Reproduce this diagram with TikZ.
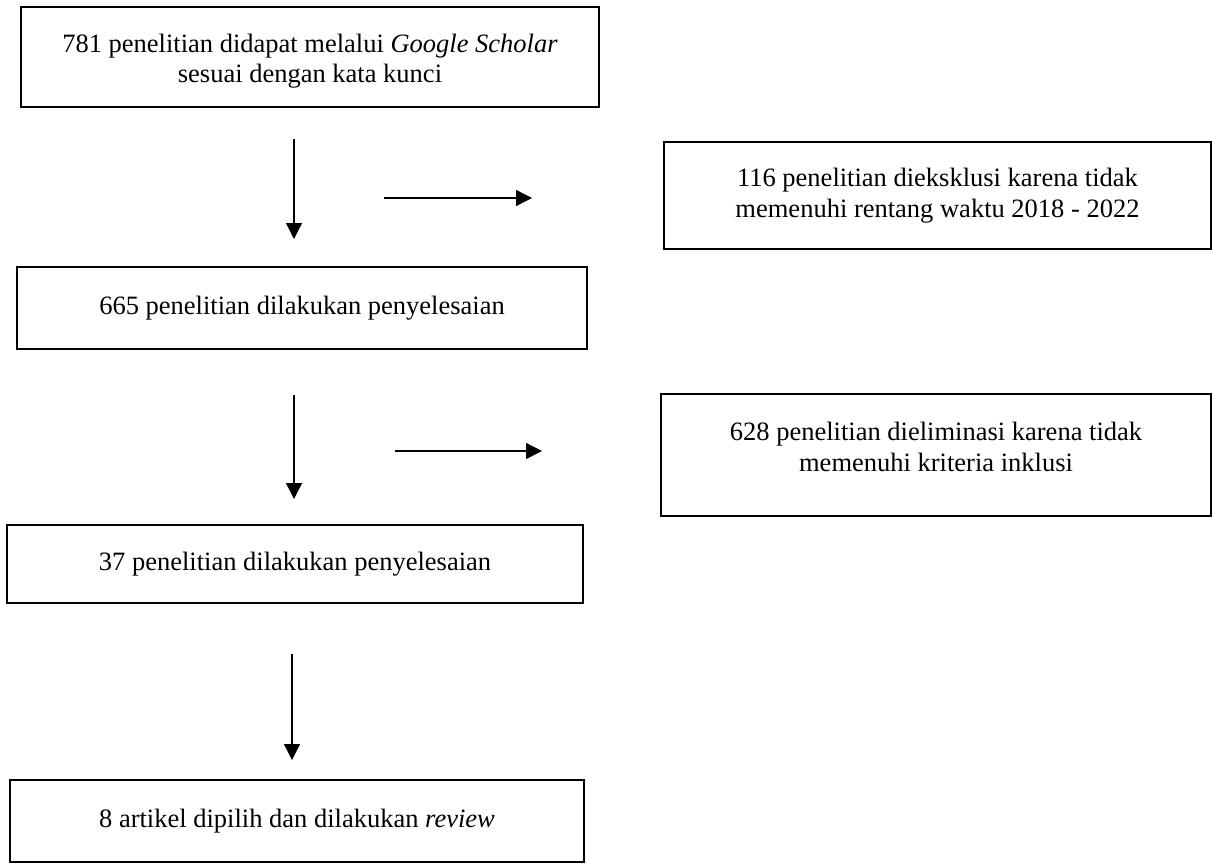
\documentclass[tikz,border=0pt]{standalone}
\usepackage{fontspec}
\setmainfont{Liberation Serif}
\usetikzlibrary{arrows.meta}
\begin{document}
\begin{tikzpicture}[x=0.5pt,y=-0.5pt,
  box/.style={draw, line width=0.8pt, inner sep=0pt, align=center,
    font=\fontsize{13.25}{15.25}\selectfont},
  txt/.style={inner sep=0pt, align=center, font=\fontsize{13.25}{15.25}\selectfont},
  flow/.style={line width=0.65pt, -{Triangle[length=8pt,width=8pt]}}]
\useasboundingbox (0,0) rectangle (1213,863);
\fill[white] (0,0) rectangle (1213,863);

\node[box, minimum width=289pt, minimum height=50pt] (b1) at (310,57) {};
\node[txt] (t1) at (310,61)
  {781 penelitian didapat melalui \textit{Google Scholar}\\ sesuai dengan kata kunci};
\node[box, minimum width=273.5pt, minimum height=53.5pt] (b2) at (937.5,195.5)
  {116 penelitian dieksklusi karena tidak\\ memenuhi rentang waktu 2018 - 2022};
\node[box, minimum width=285pt, minimum height=41pt] (b3) at (302,308)
  {665 penelitian dilakukan penyelesaian};
\node[box, minimum width=275pt, minimum height=61pt] (b4) at (936,455) {};
\node[txt] (t4) at (936,447)
  {628 penelitian dieliminasi karena tidak\\ memenuhi kriteria inklusi};
\node[box, minimum width=288pt, minimum height=39pt] (b5) at (295,564)
  {37 penelitian dilakukan penyelesaian};
\node[box, minimum width=287pt, minimum height=41pt] (b6) at (297,821)
  {8 artikel dipilih dan dilakukan \textit{review}};

\coordinate (a1s) at (294,139);
\coordinate (a1e) at (294,239);
\coordinate (h1s) at (384,198);
\coordinate (h1e) at (532,198);
\coordinate (a2s) at (294,395);
\coordinate (a2e) at (294,499);
\coordinate (h2s) at (395,451);
\coordinate (h2e) at (542,451);
\coordinate (a3s) at (292,654);
\coordinate (a3e) at (292,760);

\draw[flow] (a1s) -- (a1e);
\draw[flow] (h1s) -- (h1e);
\draw[flow] (a2s) -- (a2e);
\draw[flow] (h2s) -- (h2e);
\draw[flow] (a3s) -- (a3e);
\end{tikzpicture}
\end{document}
